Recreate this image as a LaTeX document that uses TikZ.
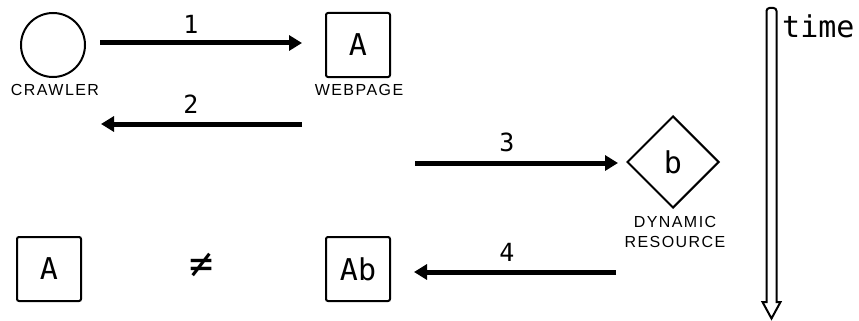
\documentclass[tikz,border=0pt]{standalone}
\usepackage{fontspec}
\setmainfont{DejaVu Sans Mono}
\newfontfamily\lblfont[LetterSpace=9]{Liberation Sans}
\usetikzlibrary{arrows.meta,shapes.geometric}
\begin{document}
\begin{tikzpicture}[x=1pt,y=-1pt,
  box/.style={draw,line width=2pt,rounded corners=2pt,minimum size=64pt,inner sep=0pt,font=\fontsize{30}{32}\selectfont},
  lbl/.style={font=\lblfont\fontsize{16}{20}\selectfont,align=center,inner sep=0pt},
  num/.style={font=\fontsize{25}{26}\selectfont,inner sep=0pt},
  flow/.style={line width=5pt,-{Triangle[length=13pt,width=15pt]}}]
\useasboundingbox (0,0) rectangle (859,321);
% nodes
\node[draw,circle,line width=2pt,minimum size=64pt,inner sep=0pt] (crawler) at (53,45) {};
\node[lbl] (crawlerlbl) at (55,90) {CRAWLER};
\node[box] (webpage) at (358,45) {A};
\node[lbl] (webpagelbl) at (359,90) {WEBPAGE};
\node[draw,diamond,line width=2pt,minimum size=92pt,inner sep=0pt,font=\fontsize{30}{32}\selectfont] (dyn) at (673,162) {b};
\node[lbl] (dynlbl) at (675,232) {DYNAMIC\\RESOURCE};
\node[box] (orig) at (49,269) {A};
\node[font=\fontsize{40}{42}\selectfont,inner sep=0pt] (neq) at (202,265) {≠};
\node[box] (final) at (358,269) {Ab};
% connector end points
\coordinate (a1s) at (100,43);
\coordinate (a1e) at (302,43);
\coordinate (a2s) at (302,124);
\coordinate (a2e) at (101,124);
\coordinate (a3s) at (415,163);
\coordinate (a3e) at (618,163);
\coordinate (a4s) at (616,272);
\coordinate (a4e) at (414,272);
\draw[flow] (a1s) -- (a1e);
\draw[flow] (a2s) -- (a2e);
\draw[flow] (a3s) -- (a3e);
\draw[flow] (a4s) -- (a4e);
\node[num] (n1) at (191,24) {1};
\node[num] (n2) at (191,104) {2};
\node[num] (n3) at (507,142) {3};
\node[num] (n4) at (507,252) {4};
% time arrow
\draw[line width=2pt,line join=miter]
  (766.5,302) -- (766.5,11) [rounded corners=3pt] -- (766.5,8) -- (776.5,8) [sharp corners] -- (776.5,302)
  -- (780.5,302) -- (771.5,318.5) -- (762.5,302) -- cycle;
\node[anchor=west,font=\fontsize{30}{31}\selectfont,inner sep=0pt] (time) at (782,26) {time};
\end{tikzpicture}
\end{document}
